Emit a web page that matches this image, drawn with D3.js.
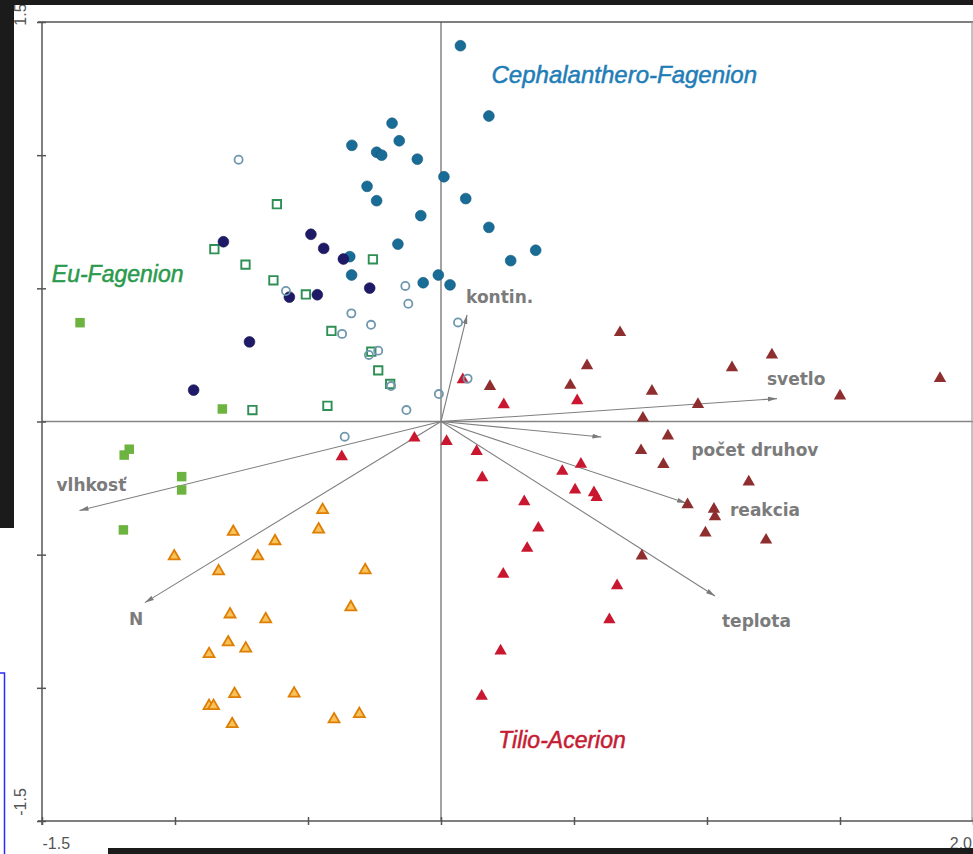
<!DOCTYPE html>
<html>
<head>
<meta charset="utf-8">
<script src="https://cdn.jsdelivr.net/npm/d3@7"></script>
<style>
html,body{margin:0;padding:0;background:#fff;}
svg{display:block;}
</style>
</head>
<body>
<svg id="chart" width="973" height="854"></svg>
<script>
// ---------------- DATA ----------------
const xDomain = [-1.5, 2.0];
const yDomain = [-1.5, 1.5];
const xTickValues = [-1.5, -1.0, -0.5, 0, 0.5, 1.0, 1.5, 2.0];
const yTickValues = [-1.5, -1.0, -0.5, 0, 0.5, 1.0, 1.5];
const xTickLabels = [[-1.5, "-1.5"], [2.0, "2.0"]];
const yTickLabels = [[1.5, "1.5"], [-1.5, "-1.5"]];

// Cephalanthero-Fagenion (filled teal circles)
const cephalantheroSites = [
  [0.073,1.411],[0.180,1.147],[-0.184,1.120],[-0.335,1.037],[-0.157,1.054],
  [-0.242,1.011],[-0.223,1.000],[-0.089,0.985],[0.011,0.919],[-0.278,0.883],
  [-0.242,0.829],[0.093,0.837],[-0.076,0.773],[0.180,0.729],[-0.162,0.666],
  [0.356,0.643],[0.262,0.604],[-0.343,0.619],[-0.336,0.550],[-0.010,0.550],
  [-0.067,0.521],[0.034,0.513]
];
// dark navy filled circles
const navySites = [
  [-0.818,0.675],[-0.489,0.703],[-0.441,0.650],[-0.367,0.610],[-0.268,0.501],
  [-0.465,0.476],[-0.570,0.467],[-0.720,0.299],[-0.930,0.118]
];
// open circles
const openCircleSites = [
  [-0.761,0.983],[-0.583,0.490],[-0.134,0.509],[-0.123,0.442],[-0.337,0.406],
  [-0.263,0.363],[-0.372,0.329],[-0.236,0.266],[-0.271,0.250],[-0.188,0.133],
  [0.064,0.372],[0.100,0.161],[-0.008,0.103],[-0.130,0.043],[-0.362,-0.057]
];
// Eu-Fagenion open squares
const openSquareSites = [
  [-0.617,0.816],[-0.852,0.647],[-0.735,0.589],[-0.630,0.530],[-0.256,0.609],
  [-0.508,0.477],[-0.412,0.340],[-0.262,0.262],[-0.236,0.192],[-0.191,0.141],
  [-0.709,0.043],[-0.427,0.059]
];
// Eu-Fagenion filled squares
const filledSquareSites = [
  [-1.357,0.371],[-0.822,0.047],[-1.172,-0.104],[-1.191,-0.126],
  [-0.975,-0.207],[-0.975,-0.257],[-1.194,-0.407]
];
// orange triangles
const orangeTriangleSites = [
  [-0.445,-0.332],[-0.460,-0.405],[-0.781,-0.414],[-0.624,-0.449],[-1.003,-0.506],
  [-0.689,-0.506],[-0.836,-0.562],[-0.285,-0.558],[-0.339,-0.697],[-0.793,-0.724],
  [-0.659,-0.742],[-0.800,-0.829],[-0.734,-0.852],[-0.872,-0.873],[-0.776,-1.023],
  [-0.552,-1.021],[-0.872,-1.068],[-0.855,-1.068],[-0.307,-1.098],[-0.402,-1.118],
  [-0.785,-1.136]
];
// Tilio-Acerion red triangles
const redTriangleSites = [
  [0.082,0.157],[0.236,0.063],[0.512,0.078],[0.021,-0.075],[0.134,-0.112],
  [0.155,-0.211],[0.526,-0.160],[0.456,-0.187],[0.504,-0.257],[0.575,-0.267],
  [0.585,-0.285],[0.313,-0.301],[0.366,-0.400],[0.324,-0.476],[0.234,-0.573],
  [0.662,-0.616],[0.633,-0.744],[0.224,-0.861],[0.153,-1.031],[-0.373,-0.132],
  [-0.100,-0.062]
];
// maroon triangles
const maroonTriangleSites = [
  [0.673,0.334],[0.549,0.210],[0.184,0.132],[0.486,0.136],[0.793,0.114],
  [0.966,0.064],[0.759,0.013],[0.853,-0.054],[0.752,-0.109],[0.836,-0.161],
  [0.927,-0.312],[1.244,0.250],[1.094,0.202],[1.876,0.162],[1.500,0.096],
  [1.157,-0.227],[1.026,-0.329],[1.030,-0.357],[0.994,-0.418],[1.222,-0.445],
  [0.755,-0.505]
];
// environmental vectors
const vectorNames = ["kontin.", "svetlo", "počet druhov", "reakcia", "teplota", "vlhkosť", "N"];
const vectorX = [0.098, 1.263, 0.603, 0.921, 1.030, -1.359, -1.113];
const vectorY = [0.400, 0.086, -0.058, -0.306, -0.655, -0.334, -0.680];

// group names
const groupNames = ["Cephalanthero-Fagenion", "Eu-Fagenion", "Tilio-Acerion"];

// ---------------- LAYOUT / STYLE ----------------
const W = 973, H = 854;
const plot = {left: 42, right: 973, top: 22, bottom: 821};
// label offsets from arrow tips (px)
const vectorLabelOffsets = [[-1,-12],[-10,-14],[90,19],[44,13],[7,31],[-23,-19],[-16,22.5]];
// group label anchors (data units)
const groupLabelAnchors = [[0.19,1.27],[-1.463,0.525],[0.215,-1.227]];
const groupLabelColors = ["#1f7db7", "#2a9a4c", "#c61c33"];
const groupLabelSizes = [24, 23, 23];

const svg = d3.select("#chart");
const x = d3.scaleLinear().domain(xDomain).range([plot.left, plot.right]);
const y = d3.scaleLinear().domain(yDomain).range([plot.bottom, plot.top]);

svg.append("rect").attr("width", W).attr("height", H).attr("fill", "#fff");

// crosshair through origin
svg.append("line").attr("x1", x(0)).attr("x2", x(0)).attr("y1", plot.top).attr("y2", plot.bottom)
  .attr("stroke", "#858585").attr("stroke-width", 1.5);
svg.append("line").attr("x1", plot.left).attr("x2", plot.right).attr("y1", y(0)).attr("y2", y(0))
  .attr("stroke", "#858585").attr("stroke-width", 1.5);

// frame
const frameColor = "#555";
svg.append("line").attr("x1", plot.left - 4).attr("x2", plot.right).attr("y1", plot.top).attr("y2", plot.top)
  .attr("stroke", frameColor).attr("stroke-width", 1.5);
svg.append("line").attr("x1", plot.right - 1).attr("x2", plot.right - 1).attr("y1", plot.top).attr("y2", plot.bottom)
  .attr("stroke", "#999").attr("stroke-width", 1.2);

// axes via d3 axis generators
const xAxis = d3.axisBottom(x).tickValues(xTickValues).tickFormat("").tickSizeOuter(0).tickSize(4);
const gx = svg.append("g").attr("transform", `translate(0,${plot.bottom})`).call(xAxis);
gx.select(".domain").attr("stroke", frameColor).attr("stroke-width", 1.5).attr("d", `M${plot.left-4},0H${plot.right}`);
gx.selectAll(".tick line").attr("y1", -4).attr("y2", 4).attr("stroke", frameColor).attr("stroke-width", 1.5);

const yAxis = d3.axisLeft(y).tickValues(yTickValues).tickFormat("").tickSizeOuter(0).tickSize(4);
const gy = svg.append("g").attr("transform", `translate(${plot.left},0)`).call(yAxis);
gy.select(".domain").attr("stroke", frameColor).attr("stroke-width", 1.5).attr("d", `M0,${plot.top}V${plot.bottom+4}`);
gy.selectAll(".tick line").attr("x1", -5).attr("x2", 4).attr("stroke", frameColor).attr("stroke-width", 1.5);

// tick labels
svg.selectAll(".xlab").data(xTickLabels).join("text")
  .attr("x", d => d[0] === xDomain[1] ? x(d[0]) - 1 : x(d[0]) + 0.5).attr("y", 849)
  .attr("text-anchor", d => d[0] === xDomain[1] ? "end" : "start")
  .attr("font-family", "Liberation Sans, Arial, sans-serif").attr("font-size", 16)
  .attr("fill", "#555").text(d => d[1]);
svg.selectAll(".ylab").data(yTickLabels).join("text")
  .attr("transform", d => `translate(25.5,${d[0] > 0 ? 14.5 : y(d[0]) - 19}) rotate(-90)`)
  .attr("text-anchor", "middle")
  .attr("font-family", "Liberation Sans, Arial, sans-serif").attr("font-size", 16)
  .attr("fill", "#555").text(d => d[1]);

// arrows
const defs = svg.append("defs");
defs.append("marker").attr("id", "arr").attr("viewBox", "0 0 9 6").attr("refX", 9).attr("refY", 3)
  .attr("markerWidth", 9).attr("markerHeight", 6).attr("markerUnits", "userSpaceOnUse")
  .attr("orient", "auto")
  .append("path").attr("d", "M0,0.6 L9,3 L0,5.4 Z").attr("fill", "#7a7a7a");

const vectors = vectorNames.map((n, i) => ({name: n, vx: vectorX[i], vy: vectorY[i], off: vectorLabelOffsets[i]}));
svg.append("g").selectAll("line").data(vectors).join("line")
  .attr("x1", x(0)).attr("y1", y(0))
  .attr("x2", d => x(d.vx)).attr("y2", d => y(d.vy))
  .attr("stroke", "#7f7f7f").attr("stroke-width", 1.1)
  .attr("marker-end", "url(#arr)");

// points
const sym = (type, size) => d3.symbol().type(type).size(size)();
const groups = [
  {data: orangeTriangleSites, path: sym(d3.symbolTriangle, 52), fill: "#f8c15a", stroke: "#de7f05", sw: 1.8},
  {data: redTriangleSites, path: sym(d3.symbolTriangle, 66), fill: "#c8172f", stroke: "none", sw: 0},
  {data: maroonTriangleSites, path: sym(d3.symbolTriangle, 66), fill: "#8f2e2e", stroke: "none", sw: 0},
  {data: filledSquareSites, path: sym(d3.symbolSquare, 90), fill: "#6cb33f", stroke: "none", sw: 0},
  {data: openSquareSites, path: sym(d3.symbolSquare, 70), fill: "none", stroke: "#2e8f55", sw: 1.9},
  {data: cephalantheroSites, path: sym(d3.symbolCircle, 92), fill: "#196c96", stroke: "#13587a", sw: 0.6},
  {data: navySites, path: sym(d3.symbolCircle, 92), fill: "#1f1a68", stroke: "#18144f", sw: 0.6},
  {data: openCircleSites, path: sym(d3.symbolCircle, 52), fill: "none", stroke: "#6f97ad", sw: 1.8}
];
groups.forEach(g => {
  svg.append("g").selectAll("path").data(g.data).join("path")
    .attr("d", g.path)
    .attr("transform", d => `translate(${x(d[0])},${y(d[1])})`)
    .attr("fill", g.fill).attr("stroke", g.stroke).attr("stroke-width", g.sw);
});

// vector labels
svg.append("g").selectAll("text").data(vectors).join("text")
  .attr("x", d => x(d.vx) + d.off[0]).attr("y", d => y(d.vy) + d.off[1])
  .attr("font-family", "DejaVu Sans, Verdana, sans-serif").attr("font-weight", "bold")
  .attr("font-size", 17).attr("fill", "#7b7b7b").text(d => d.name);

// group labels
svg.append("g").selectAll("text").data(groupNames).join("text")
  .attr("x", (d, i) => x(groupLabelAnchors[i][0])).attr("y", (d, i) => y(groupLabelAnchors[i][1]))
  .attr("font-family", "Liberation Sans, Arial, sans-serif").attr("font-style", "italic")
  .attr("font-size", (d, i) => groupLabelSizes[i])
  .attr("fill", (d, i) => groupLabelColors[i]).attr("stroke", (d, i) => groupLabelColors[i])
  .attr("stroke-width", 0.5).text(d => d);

// screenshot borders
svg.append("rect").attr("x", 0).attr("y", 0).attr("width", W).attr("height", 5).attr("fill", "#1b1b1b");
svg.append("rect").attr("x", 0).attr("y", 0).attr("width", 14).attr("height", 528).attr("fill", "#1b1b1b");
svg.append("rect").attr("x", 108).attr("y", 848).attr("width", W - 108).attr("height", 6).attr("fill", "#1b1b1b");
svg.append("rect").attr("x", -10).attr("y", 673).attr("width", 14.5).attr("height", 200)
  .attr("fill", "none").attr("stroke", "#2a2aff").attr("stroke-width", 1.5);
</script>
</body>
</html>
